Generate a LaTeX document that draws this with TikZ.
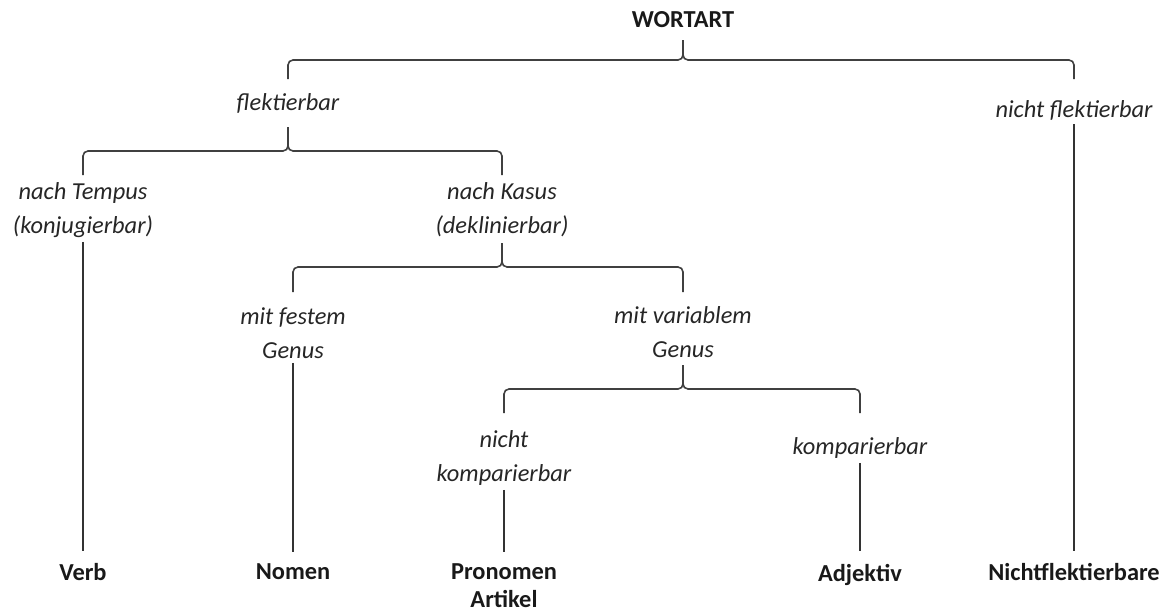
\documentclass[tikz,border=0pt]{standalone}
\usepackage{fontspec}
\setmainfont{Carlito}
\usepackage{xcolor}

% brace: #1 parent, #2 left child, #3 right child, #4 tip y, #5 bar y, #6 end y
\newcommand\gabel[6]{%
  \draw[gabel] (#2 |- 0,#6) |- (#1 |- 0,#5) -- (#1 |- 0,#4);
  \draw[gabel] (#3 |- 0,#6) |- (#1 |- 0,#5) -- (#1 |- 0,#4);
}

\begin{document}
\begin{tikzpicture}[x=0.5pt, y=-0.5pt,
  kat/.style={align=center, inner sep=2pt, text=black!85,
    font=\fontsize{12.2}{17}\selectfont\itshape},
  wort/.style={align=center, inner xsep=2pt, inner ysep=6pt, text=black!90,
    font=\fontsize{12.2}{14}\selectfont\bfseries},
  gabel/.style={draw=black!75, line width=0.8pt, rounded corners=2.5pt},
  linie/.style={draw=black!80, line width=0.7pt}]
  \useasboundingbox (0,0) rectangle (1162,611);

  % Categories
  \node[wort] (wortart) at (683,20) {WORTART};
  \node[kat] (flekt) at (288,103) {flektierbar};
  \node[kat] (nflekt) at (1074,110) {nicht flektierbar};
  \node[kat] (tempus) at (83,210) {nach Tempus\\(konjugierbar)};
  \node[kat] (kasus) at (502,210) {nach Kasus\\(deklinierbar)};
  \node[kat] (fest) at (293,333) {mit festem\\Genus};
  \node[kat] (variabel) at (683,332) {mit variablem\\Genus};
  \node[kat] (nkomp) at (504,458) {nicht\\komparierbar};
  \node[kat] (komp) at (860,448) {komparierbar};

  % Word classes
  \node[wort] (verb) at (83,572) {Verb};
  \node[wort] (nomen) at (293,572) {Nomen};
  \node[wort] (pronomen) at (504,586) {Pronomen\\Artikel};
  \node[wort] (adjektiv) at (860,574.5) {Adjektiv};
  \node[wort] (nichtfl) at (1074,572) {Nichtflektierbare};

  % Braces
  \gabel{wortart}{flekt}{nflekt}{40}{60}{79}
  \gabel{flekt}{tempus}{kasus}{127}{151}{175}
  \gabel{kasus}{fest}{variabel}{243}{267}{292}
  \gabel{variabel}{nkomp}{komp}{365}{389}{413}

  % Lines down to the word classes
  \draw[linie] (tempus.south) -- (verb.north);
  \draw[linie] (fest.south) -- (nomen.north);
  \draw[linie] (nkomp.south) -- (pronomen.north);
  \draw[linie] (komp.south) -- (adjektiv.north);
  \draw[linie] (nflekt.south) -- (nichtfl.north);
\end{tikzpicture}
\end{document}
